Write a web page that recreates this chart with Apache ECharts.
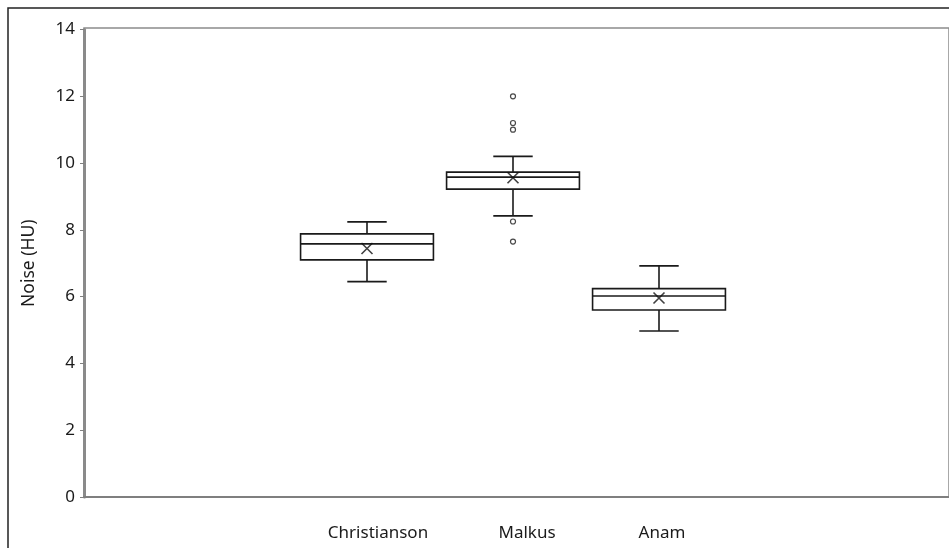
<!DOCTYPE html>
<html>
<head>
<meta charset="utf-8">
<script src="https://cdn.jsdelivr.net/npm/echarts@6/dist/echarts.min.js"></script>
<style>
  html, body { margin: 0; padding: 0; background: #fff; }
  #chart { width: 949px; height: 548px; }
</style>
</head>
<body>
<div id="chart"></div>
<script>
// values
var categories = ['Christianson', 'Malkus', 'Anam']
// [low whisker, Q1, median, Q3, high whisker]
var boxValues = [
  [6.45, 7.10, 7.58, 7.88, 8.24],
  [8.42, 9.22, 9.58, 9.73, 10.20],
  [4.97, 5.60, 6.02, 6.24, 6.92]
]
var meanValues = [7.44, 9.56, 5.96]
// [category index, value]
var outliers = [
  [1, 12.0], [1, 11.2], [1, 11.0], [1, 8.25], [1, 7.65]
]
var yTicks = { min: 0, max: 14, interval: 2 }

var font = 'Noto Sans'
var ink = '#1a1a1a'
// the category names sit a little right of their boxes in the original
var labelShift = [22, 28, 6]

var chart = echarts.init(document.getElementById('chart'))

function renderBox (params, api) {
  var idx = api.value(0)
  var low = api.coord([idx, api.value(1)])
  var q1 = api.coord([idx, api.value(2)])
  var med = api.coord([idx, api.value(3)])
  var q3 = api.coord([idx, api.value(4)])
  var high = api.coord([idx, api.value(5)])
  var band = api.size([1, 0])[0]
  var half = band * 0.455
  var cap = band * 0.135
  var x = low[0]
  var style = { stroke: ink, lineWidth: 1.6, fill: null }
  return {
    type: 'group',
    children: [
      { type: 'line', shape: { x1: x, y1: high[1], x2: x, y2: q3[1] }, style: style },
      { type: 'line', shape: { x1: x, y1: q1[1], x2: x, y2: low[1] }, style: style },
      { type: 'line', shape: { x1: x - cap, y1: high[1], x2: x + cap, y2: high[1] }, style: style },
      { type: 'line', shape: { x1: x - cap, y1: low[1], x2: x + cap, y2: low[1] }, style: style },
      { type: 'rect', shape: { x: x - half, y: q3[1], width: half * 2, height: q1[1] - q3[1] }, style: { stroke: ink, lineWidth: 1.6, fill: '#fff' } },
      { type: 'line', shape: { x1: x - half, y1: med[1], x2: x + half, y2: med[1] }, style: style }
    ]
  }
}

var labelRich = {}
labelShift.forEach(function (p, i) {
  labelRich['c' + i] = { color: ink, fontFamily: font, fontSize: 17, padding: [0, 0, 0, p] }
})

var option = {
  backgroundColor: '#fff',
  animation: false,
  graphic: [{
    type: 'rect',
    shape: { x: 8, y: 8, width: 980, height: 580 },
    style: { fill: null, stroke: '#222', lineWidth: 1.5 },
    silent: true
  }],
  grid: [
    // plot area frame
    { left: 84, right: -30, top: 28, bottom: 51, show: true, borderColor: '#8c8c8c', borderWidth: 1.5, backgroundColor: 'transparent' },
    // value axis
    { left: 84, right: -30, top: 29.5, bottom: 51 },
    // boxes
    { left: 294, right: 217, top: 29.5, bottom: 51 }
  ],
  xAxis: [
    { gridIndex: 0, type: 'value', show: false },
    {
      gridIndex: 1, type: 'value', min: 0, max: 1,
      axisLine: { show: true, lineStyle: { color: '#7f7f7f', width: 2 } },
      axisTick: { show: false }, axisLabel: { show: false }, splitLine: { show: false }
    },
    {
      gridIndex: 2, type: 'category', data: categories, boundaryGap: true,
      axisLine: { show: false }, axisTick: { show: false }, splitLine: { show: false },
      axisLabel: {
        interval: 0, hideOverlap: false,
        color: ink, fontFamily: font, fontSize: 17, margin: 28,
        formatter: function (v, i) { return '{c' + i + '|' + v + '}' },
        rich: labelRich
      }
    }
  ],
  yAxis: [
    { gridIndex: 0, type: 'value', show: false },
    {
      gridIndex: 1, type: 'value',
      min: yTicks.min, max: yTicks.max, interval: yTicks.interval,
      name: 'Noise (HU)', nameLocation: 'middle', nameGap: 46, nameRotate: 90,
      nameTextStyle: { color: ink, fontFamily: font, fontSize: 17.5 },
      axisLine: { show: true, lineStyle: { color: '#8a8a8a', width: 3 } },
      axisTick: { show: true, inside: false, length: 4, lineStyle: { color: '#808080', width: 1 } },
      axisLabel: { color: ink, fontFamily: font, fontSize: 17, margin: 9 },
      splitLine: { show: false }
    },
    {
      gridIndex: 2, type: 'value',
      min: yTicks.min, max: yTicks.max, interval: yTicks.interval,
      show: false, splitLine: { show: false }
    }
  ],
  series: [
    {
      type: 'custom',
      xAxisIndex: 2, yAxisIndex: 2,
      renderItem: renderBox,
      encode: { x: 0, y: [1, 2, 3, 4, 5] },
      data: boxValues.map(function (b, i) { return [i].concat(b) }),
      z: 2
    },
    {
      type: 'scatter',
      xAxisIndex: 2, yAxisIndex: 2,
      symbol: 'path://M0,0L10,10M10,0L0,10',
      symbolSize: 11,
      itemStyle: { color: 'none', borderColor: '#111', borderWidth: 1.6 },
      data: meanValues.map(function (v, i) { return [i, v] }),
      z: 3
    },
    {
      type: 'scatter',
      xAxisIndex: 2, yAxisIndex: 2,
      symbol: 'circle',
      symbolSize: 5,
      itemStyle: { color: '#fff', borderColor: ink, borderWidth: 1.2 },
      data: outliers,
      z: 3
    }
  ]
}

chart.setOption(option)
</script>
</body>
</html>
